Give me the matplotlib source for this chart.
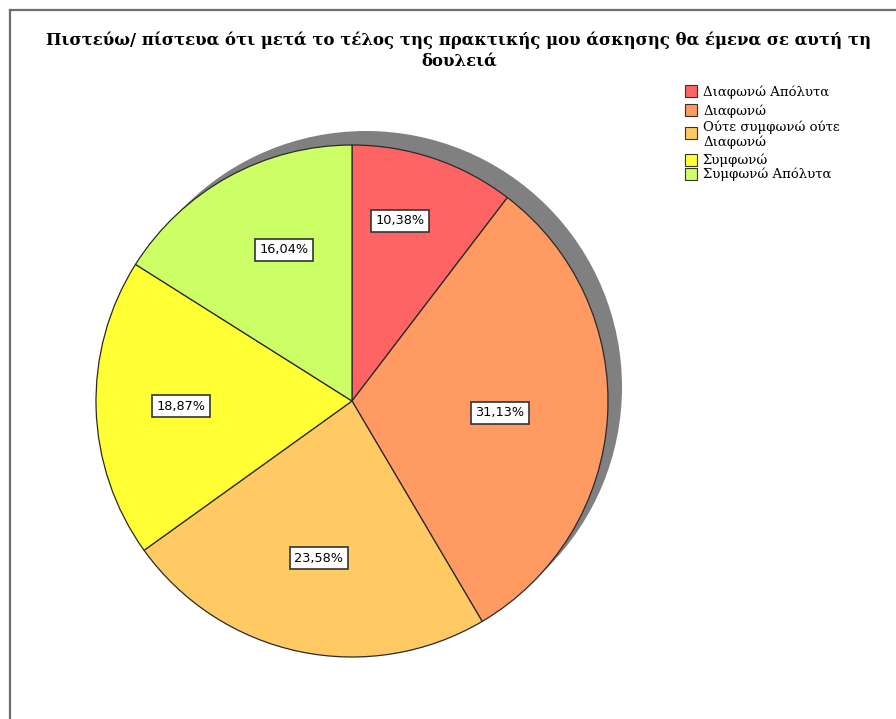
import numpy as np
import matplotlib
matplotlib.use("Agg")
import matplotlib.pyplot as plt
from matplotlib.patches import Circle, Rectangle
from matplotlib.lines import Line2D

# Response categories and their shares (%)
categories = [
    "Διαφωνώ Απόλυτα",
    "Διαφωνώ",
    "Ούτε συμφωνώ ούτε\nΔιαφωνώ",
    "Συμφωνώ",
    "Συμφωνώ Απόλυτα",
]
shares = [10.38, 31.13, 23.58, 18.87, 16.04]
slice_colors = ["#FF6464", "#FF9A62", "#FFC964", "#FFFF33", "#CCFF66"]

title_lines = [
    "Πιστεύω/ πίστευα ότι μετά το τέλος της πρακτικής μου άσκησης θα έμενα σε αυτή τη",
    "δουλειά",
]

# label placement: radial fraction and small angular nudge (degrees)
label_radius = [0.728, 0.58, 0.627, 0.668, 0.647]
label_nudge = [3.8, -1.2, 0.0, 0.0, -4.7]

W, H = 896, 719
fig = plt.figure(figsize=(W / 100, H / 100), dpi=100)
fig.patch.set_facecolor("white")


def fx(x):
    return x / W


def fy(y):
    return 1 - y / H


# outer frame (left and top edges visible)
fig.add_artist(Line2D([fx(10), fx(10)], [fy(10), fy(H + 5)], transform=fig.transFigure,
                      color="#6e6e6e", lw=1.6))
fig.add_artist(Line2D([fx(10), fx(W + 5)], [fy(10), fy(10)], transform=fig.transFigure,
                      color="#6e6e6e", lw=1.6))

# title, two centred lines
for line, base in zip(title_lines, [45, 66]):
    fig.text(fx(459), fy(base), line, ha="center", va="baseline", fontsize=11.9,
             fontweight="bold", family="DejaVu Serif")

# pie axes: centre (352, 401) px, radius 256 px
cx, cy, r = 352, 401, 256
ax = fig.add_axes([fx(cx - r), fy(cy + r), 2 * r / W, 2 * r / H])

# drop shadow behind the pie
off = 14 / r
ax.add_patch(Circle((off, off), 1.0, facecolor="#808080", edgecolor="none", zorder=0,
                    clip_on=False))

wedges, _ = ax.pie(shares, colors=slice_colors, startangle=90, counterclock=False,
                   radius=1.0, wedgeprops=dict(edgecolor="#2a2a2a", linewidth=0.9))
for w in wedges:
    w.set_zorder(1)
    w.set_clip_on(False)

ax.set_xlim(-1, 1)
ax.set_ylim(-1, 1)
ax.set_aspect("equal")
ax.axis("off")

# percentage labels
cum = np.cumsum([0] + shares[:-1])
for i, s in enumerate(shares):
    mid = 90 - (cum[i] + s / 2) * 3.6 + label_nudge[i]
    rad = np.deg2rad(mid)
    x = label_radius[i] * np.cos(rad)
    y = label_radius[i] * np.sin(rad)
    ax.text(x, y, f"{s:.2f}%".replace(".", ","), ha="center", va="center",
            fontsize=9.3, family="DejaVu Sans", zorder=3,
            bbox=dict(boxstyle="square,pad=0.33", facecolor="white",
                      edgecolor="#333333", linewidth=1.2))

# legend
swatch_y = [91, 110, 133, 160, 174]
text_y = [92, 111, 135, 160, 174]
sw = 12
for lab, col, sy, ty in zip(categories, slice_colors, swatch_y, text_y):
    fig.add_artist(Rectangle((fx(685), fy(sy + sw / 2)), sw / W, sw / H,
                             transform=fig.transFigure, facecolor=col,
                             edgecolor="#333333", linewidth=0.8))
    fig.text(fx(703), fy(ty), lab, ha="left", va="center", fontsize=9.5,
             family="DejaVu Serif", linespacing=1.1)

fig.savefig("out.png", dpi=100)
